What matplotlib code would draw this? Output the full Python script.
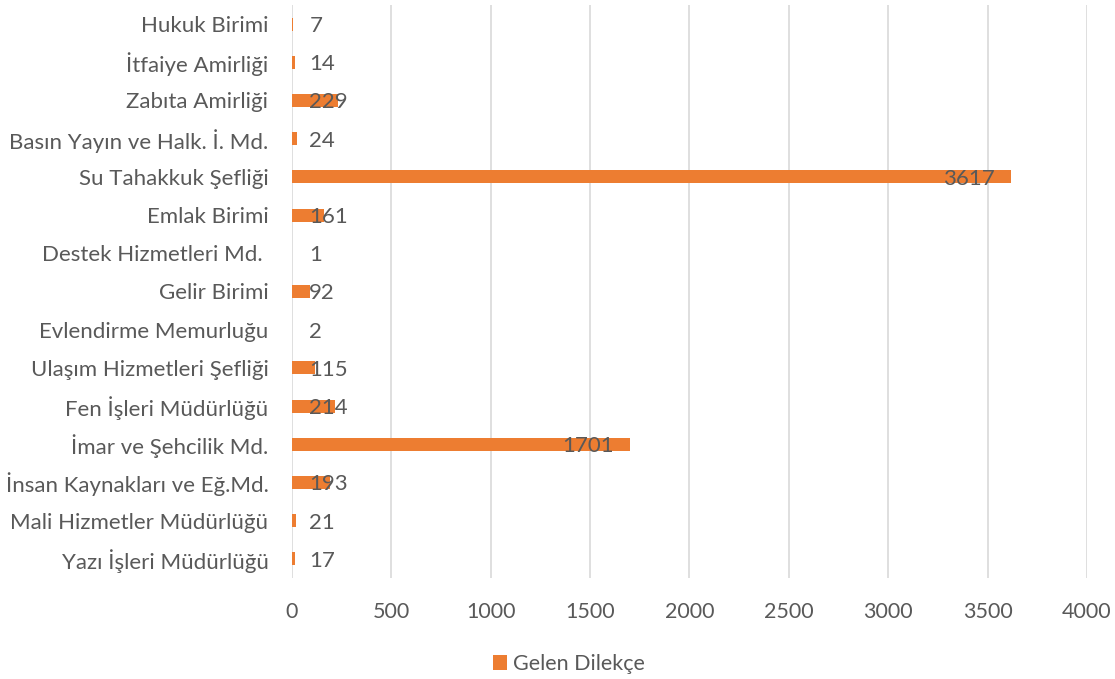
import matplotlib.pyplot as plt

plt.rcParams['font.family'] = ['Lato', 'DejaVu Sans']

# birimler, alttan uste
birimler = ['Yazı İşleri Müdürlüğü', 'Mali Hizmetler Müdürlüğü', 'İnsan Kaynakları ve Eğ.Md.',
            'İmar ve Şehcilik Md.', 'Fen İşleri Müdürlüğü', 'Ulaşım Hizmetleri Şefliği',
            'Evlendirme Memurluğu', 'Gelir Birimi', 'Destek Hizmetleri Md. ', 'Emlak Birimi',
            'Su Tahakkuk Şefliği', 'Basın Yayın ve Halk. İ. Md.', 'Zabıta Amirliği',
            'İtfaiye Amirliği', 'Hukuk Birimi']
dilekce = [17, 21, 193, 1701, 214, 115, 2, 92, 1, 161, 3617, 24, 229, 14, 7]
xticks = [0, 500, 1000, 1500, 2000, 2500, 3000, 3500, 4000]

turuncu = '#ED7D31'
gri = '#595959'

fig = plt.figure(figsize=(11.15, 6.79), dpi=100)
ax = fig.add_axes([292 / 1115, 1 - 578 / 679, (1087 - 292) / 1115, 573 / 679])

y = range(len(birimler))
ax.barh(y, dilekce, height=0.34, color=turuncu, label='Gelen Dilekçe', zorder=3)

# etiketler: uzun cubuklarda ic uca, kisalarda eksenin hemen sagina
for i, v in enumerate(dilekce):
    if v > 1000:
        ax.text(v - 80, i - 0.05, str(v), ha='right', va='center', color=gri, fontsize=16, zorder=4)
    else:
        ax.text(87, i - 0.05, str(v), ha='left', va='center', color=gri, fontsize=16, zorder=4)

ax.set_xlim(0, 4000)
ax.set_ylim(-0.5, len(birimler) - 0.5)
ax.set_xticks(xticks)
ax.set_yticks(list(y))
ax.set_yticklabels(birimler)
ax.tick_params(axis='both', length=0, colors=gri)
ax.tick_params(axis='x', pad=17, labelsize=15.5)
ax.tick_params(axis='y', pad=17, labelsize=16)
ax.xaxis.grid(True, color='#D9D9D9', linewidth=1.2, zorder=0)
for s in ax.spines.values():
    s.set_visible(False)

leg = fig.legend(loc='center', bbox_to_anchor=(569 / 1115, 1 - 664 / 679), frameon=False,
                 fontsize=15.5, handlelength=0.65, handleheight=0.65, handletextpad=0.3)
for t in leg.get_texts():
    t.set_color(gri)

fig.savefig('out.png', dpi=100)
